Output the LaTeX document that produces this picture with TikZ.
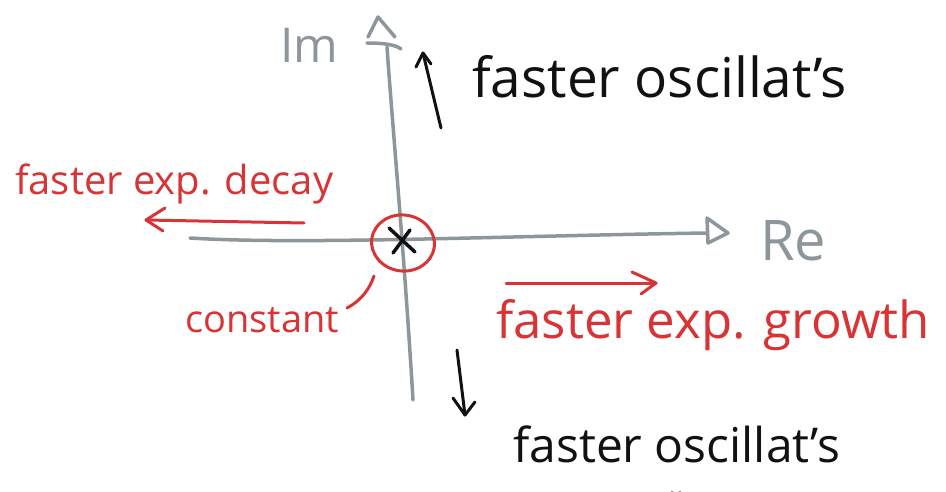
\documentclass[tikz,border=0pt]{standalone}
\usepackage{fontspec}
\setmainfont{Open Sans}
\usetikzlibrary{arrows.meta,shapes.geometric}
\definecolor{axisgray}{HTML}{8C969B}
\definecolor{inkred}{HTML}{D93435}
\definecolor{inkblack}{HTML}{111111}
\tikzset{
  axisline/.style={draw=axisgray, line width=3.5pt, line cap=round, line join=round},
  redline/.style={draw=inkred, line width=3pt, line cap=round, line join=round},
  blackline/.style={draw=inkblack, line width=3pt, line cap=round, line join=round},
  lbl/.style={inner sep=0pt, anchor=base west},
}
\begin{document}
\begin{tikzpicture}[x=1pt, y=-1pt]
\useasboundingbox (0,0) rectangle (946,492);
% axes
\coordinate (imbot) at (413,400);
\coordinate (imtop) at (387,47);
\coordinate (releft) at (190,238);
\coordinate (reend) at (707,233);
\draw[axisline] (imbot) .. controls (404,250) and (392,120) .. (imtop);
\draw[axisline] (368,37) -- (378,17) -- (395,37);
\draw[axisline] (367,43) .. controls (385,43) and (396,45) .. (401,49);
\draw[axisline] (releft) .. controls (300,245) and (500,236) .. (reend);
\draw[axisline] (707,218) -- (728,233) -- (708,243) -- cycle;
\node[lbl, text=axisgray, font=\fontsize{48}{48}\selectfont] (im) at (280,63) {Im};
\node[lbl, text=axisgray, font=\fontsize{56}{56}\selectfont] (re) at (760,261) {Re};
% origin
\node[draw=inkred, line width=3pt, ellipse, minimum width=63pt, minimum height=56pt, rotate=-8] (circ) at (403,243) {};
\coordinate (x1) at (389,228);
\coordinate (x2) at (415,252);
\coordinate (x3) at (410,230);
\coordinate (x4) at (393,253);
\draw[inkblack, line width=3.5pt, line cap=round] (x1) -- (x2) (x3) -- (x4);
% decay
\node[lbl, text=inkred, font=\fontsize{40}{40}\selectfont] (decay) at (15,195) {faster exp. decay};
\coordinate (da) at (304,223);
\coordinate (db) at (146,220);
\draw[redline] (da) -- (db);
\draw[redline] (165,208) -- (db) -- (163,231);
% growth
\node[lbl, text=inkred, font=\fontsize{51}{51}\selectfont] (growth) at (496,338) {faster exp. growth};
\coordinate (ga) at (506,283);
\coordinate (gb) at (656,283);
\draw[redline] (ga) -- (gb);
\draw[redline] (632,272) -- (gb) -- (641,294);
% constant
\node[lbl, text=inkred, font=\fontsize{38}{38}\selectfont] (const) at (185,332) {constant};
\coordinate (ca) at (347,308);
\coordinate (cb) at (374,276);
\draw[redline] (ca) .. controls (362,300) and (370,288) .. (cb);
% oscillations
\node[lbl, text=inkblack, font=\fontsize{55}{55}\selectfont] (osctop) at (472,98) {faster oscillat’s};
\coordinate (ta) at (441,128);
\coordinate (tb) at (423,53);
\draw[blackline] (ta) -- (tb);
\draw[blackline] (416,67) -- (tb) -- (431,64);
\node[lbl, text=inkblack, font=\fontsize{48}{48}\selectfont] (oscbot) at (513,462) {faster oscillat’s};
\coordinate (ba) at (457,350);
\coordinate (bb) at (465,415);
\draw[blackline] (ba) -- (bb);
\draw[blackline] (453,398) -- (bb) -- (475,402);
% small mark at bottom edge
\draw[axisgray, line width=3pt, line cap=round] (672,492) arc (180:0:4);
\end{tikzpicture}
\end{document}
